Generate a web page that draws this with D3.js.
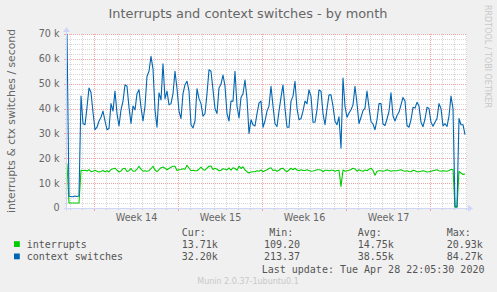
<!DOCTYPE html>
<html>
<head>
<meta charset="utf-8">
<script src="https://cdn.jsdelivr.net/npm/d3@7"></script>
<style>
  html, body { margin: 0; padding: 0; background: #f0f0f0; }
  svg { display: block; }
  text { font-family: "DejaVu Sans", sans-serif; fill: #666; }
  text.mono { font-family: "DejaVu Sans Mono", monospace; fill: #555; }
</style>
</head>
<body>
<svg id="chart" width="497" height="292"></svg>
<script>
// one sample every 4 hours, oldest first, values in thousands per second
var stepHours = 4;
var interrupts = [
  17.7, 2, 2, 2, 2, 2, 2, 15.2, 15.1, 15.2,
  14.9, 15.4, 14.6, 14.8, 15.2, 14.8, 14.5, 14.7, 15.1, 14.6,
  15, 14.5, 15.5, 15.8, 16, 15.2, 14.5, 14.9, 15.8, 16,
  14.7, 15, 15.9, 14.8, 14.8, 15.6, 16.8, 15.6, 14.8, 15,
  14.8, 15, 15.8, 16.8, 15.3, 14.6, 15.4, 16.2, 16.5, 16,
  15.4, 15.9, 16.4, 16.8, 16.8, 15.1, 15.4, 15.5, 15.8, 15.6,
  17.2, 16.1, 15, 15.2, 15, 15, 15.6, 16.4, 15.5, 15.2,
  16, 16.8, 16.9, 15.5, 16, 15.6, 15, 15.2, 15.8, 15.6,
  15.3, 16.1, 15.2, 16.2, 15.9, 15.2, 16.8, 15.9, 16.6, 15.3,
  14.6, 14.1, 14.5, 14.6, 14.6, 15, 14.8, 15.3, 14.6, 15,
  15.4, 15.9, 16.2, 15.1, 15.3, 14.8, 15.2, 15.9, 16, 15.1,
  14.6, 15.3, 16, 15.4, 16, 15.3, 15, 15.4, 15.1, 15.1,
  15.4, 15.1, 14.8, 14.9, 15.1, 15.4, 15.4, 15.3, 14.6, 15.2,
  15.2, 15, 15.2, 15.2, 14.8, 15.1, 15.2, 8.7, 15.3, 14.8,
  15, 15.2, 15.5, 16, 15.7, 14.8, 15.4, 15, 14.8, 15.3,
  15, 15.6, 16, 15.1, 13.2, 14.8, 15, 15, 14.8, 15,
  15.4, 15.1, 14.8, 15, 15, 15, 15.2, 15.4, 15, 14.8,
  15, 14.7, 14.6, 15.2, 15, 14.6, 14.6, 14.8, 15, 14.8,
  14.5, 14.6, 14.8, 15, 15.2, 15.4, 15, 14.8, 15, 14.9,
  14.8, 15.1, 15.5, 15.5, 0.3, 0.3, 14.7, 14.1, 13.5, 13.7
];
var contextSwitches = [
  70, 4.7, 4.6, 4.5, 4.8, 4.6, 4.8, 45, 34, 33.5,
  40.5, 48.3, 46.5, 38.5, 31.5, 32.5, 35, 36.5, 39, 35,
  31.5, 32, 42, 39, 47, 38, 33, 39.5, 43, 49.6,
  49, 40.5, 34, 41, 39.5, 46, 47.6, 40.5, 35, 41,
  53, 55, 61, 56, 39.5, 32.5, 46.3, 43.5, 58, 44,
  47, 41.5, 42, 46, 55, 48, 39, 36, 46, 49.6,
  51, 47, 33.5, 32.2, 35, 48, 44, 42, 36.9, 38,
  46, 55.6, 55, 47.5, 40, 38, 48.3, 49.8, 53.5, 49,
  38, 35, 43, 43, 55, 41, 36.2, 44.5, 46, 51.5,
  44, 30, 35.5, 33.5, 33, 38, 42.2, 43, 32.5, 35,
  39, 41, 49, 41, 33.9, 32.8, 39, 44.5, 49.5, 40,
  32.5, 32.5, 43, 45, 51, 40, 35.5, 36, 39, 43,
  42, 47.5, 44.9, 34.5, 34.5, 39.5, 47.5, 47, 38, 33.5,
  40, 45.5, 45.5, 41, 34.9, 33.5, 36.7, 24.1, 52.3, 40.8,
  36.5, 38.2, 39.5, 41.5, 49, 42, 34, 36.5, 39.2, 40.2,
  47, 40.5, 34.8, 33.8, 31.5, 35.5, 42, 42, 33.8, 33.2,
  35.8, 38.9, 46.3, 37, 35, 37.2, 38.6, 41.5, 44.5, 43,
  33.2, 32.5, 35.5, 40.5, 40.2, 42.5, 41, 34.5, 32.7, 35.8,
  40.5, 40, 34.5, 32.9, 34.5, 36, 42, 40, 33, 33.9,
  32.8, 37, 45, 40, 0.5, 0.5, 36, 33.5, 33.5, 29.5
];

var yTicks = [0, 10, 20, 30, 40, 50, 60, 70];
var weekLabels = ["Week 14", "Week 15", "Week 16", "Week 17"];
var spanHours = 800;        // width of the graph in hours
var firstWeekHour = 55;     // first week boundary, hours from the left edge

var seriesNames = ["interrupts", "context switches"];
var curValues = ["13.71k", "32.20k"];
var minValues = ["109.20", "213.37"];
var avgValues = ["14.75k", "38.55k"];
var maxValues = ["20.93k", "84.27k"];
var lastUpdate = "Last update: Tue Apr 28 22:05:30 2020";

var colours = ["#00cc00", "#0066b3"];

// plot box (window.top is taken, so prefixed names)
var plotLeft = 67, plotRight = 467, plotTop = 34, plotBottom = 208;

var svg = d3.select("#chart");
svg.append("rect").attr("width", 497).attr("height", 292).attr("fill", "#f0f0f0");
svg.append("rect")
  .attr("x", plotLeft).attr("y", plotTop)
  .attr("width", plotRight - plotLeft).attr("height", plotBottom - plotTop)
  .attr("fill", "#ffffff");

var x = d3.scaleLinear().domain([0, spanHours]).range([plotLeft, plotRight]);
var y = d3.scaleLinear().domain([0, 70]).range([plotBottom, plotTop]);

function px(v) { return Math.round(v) + 0.5; }
function pxx(v) { return Math.floor(v) + 0.5; }

// grid
var majorHours = d3.range(firstWeekHour, spanHours, 168);
var minorHours = d3.range(firstWeekHour % 24, spanHours, 24)
  .filter(function(h) { return (h - firstWeekHour) % 168 !== 0; });
var minorY = d3.range(0, 70.01, 2).filter(function(v) { return v % 10 !== 0; });

var grid = svg.append("g").attr("stroke-dasharray", "1,1").attr("stroke-width", 1);
grid.selectAll(".hmin").data(minorY).enter().append("line")
  .attr("x1", plotLeft).attr("x2", plotRight)
  .attr("y1", function(d) { return px(y(d)); })
  .attr("y2", function(d) { return px(y(d)); })
  .attr("stroke", "#d6d6d6");
grid.selectAll(".vmin").data(minorHours).enter().append("line")
  .attr("x1", function(d) { return pxx(x(d)); })
  .attr("x2", function(d) { return pxx(x(d)); })
  .attr("y1", plotTop).attr("y2", plotBottom)
  .attr("stroke", "#d6d6d6");
grid.selectAll(".hmaj").data(yTicks.slice(1)).enter().append("line")
  .attr("x1", plotLeft).attr("x2", plotRight)
  .attr("y1", function(d) { return px(y(d)); })
  .attr("y2", function(d) { return px(y(d)); })
  .attr("stroke", "#f2a5a5");
grid.selectAll(".vmaj").data(majorHours).enter().append("line")
  .attr("x1", function(d) { return pxx(x(d)); })
  .attr("x2", function(d) { return pxx(x(d)); })
  .attr("y1", plotTop).attr("y2", plotBottom)
  .attr("stroke", "#f2a5a5");

// small ticks outside the axes
var ticks = svg.append("g").attr("stroke-width", 1);
ticks.selectAll(".tx").data(minorHours).enter().append("line")
  .attr("x1", function(d) { return pxx(x(d)); })
  .attr("x2", function(d) { return pxx(x(d)); })
  .attr("y1", plotBottom).attr("y2", plotBottom + 2).attr("stroke", "#c8c8c8");
ticks.selectAll(".txm").data(majorHours).enter().append("line")
  .attr("x1", function(d) { return pxx(x(d)); })
  .attr("x2", function(d) { return pxx(x(d)); })
  .attr("y1", plotBottom).attr("y2", plotBottom + 3).attr("stroke", "#f2a5a5");
ticks.selectAll(".ty").data(minorY).enter().append("line")
  .attr("x1", plotLeft - 2).attr("x2", plotLeft)
  .attr("y1", function(d) { return px(y(d)); })
  .attr("y2", function(d) { return px(y(d)); })
  .attr("stroke", "#c8c8c8");
ticks.selectAll(".tym").data(yTicks).enter().append("line")
  .attr("x1", plotLeft - 3).attr("x2", plotLeft)
  .attr("y1", function(d) { return px(y(d)); })
  .attr("y2", function(d) { return px(y(d)); })
  .attr("stroke", "#f2a5a5");

// axis labels
svg.append("g").selectAll("text").data(yTicks).enter().append("text")
  .attr("x", 59.5)
  .attr("y", function(d) { return y(d); })
  .attr("dy", "0.36em")
  .attr("text-anchor", "end")
  .style("font-size", "9.6px")
  .text(function(d) { return d === 0 ? "0" : d + " k"; });

svg.append("g").selectAll("text").data(weekLabels).enter().append("text")
  .attr("x", function(d, i) { return x(majorHours[i] + 84); })
  .attr("y", 220.5)
  .attr("text-anchor", "middle")
  .style("font-size", "9.6px")
  .text(function(d) { return d; });

// data lines
svg.append("clipPath").attr("id", "plotclip").append("rect")
  .attr("x", plotLeft).attr("y", plotTop - 1)
  .attr("width", plotRight - plotLeft).attr("height", plotBottom - plotTop + 1);

var line = d3.line()
  .x(function(d, i) { return x(i * stepHours); })
  .y(function(d) { return y(d); });

[interrupts, contextSwitches].forEach(function(series, k) {
  svg.append("path")
    .datum(series)
    .attr("clip-path", "url(#plotclip)")
    .attr("fill", "none")
    .attr("stroke", colours[k])
    .attr("stroke-width", 1.1)
    .attr("stroke-linejoin", "round")
    .attr("d", line);
});

// axes with arrows
var axisColour = "#cfd6f8";
svg.append("line").attr("x1", plotLeft - 3).attr("x2", plotRight + 2)
  .attr("y1", plotBottom + 0.5).attr("y2", plotBottom + 0.5)
  .attr("stroke", axisColour);
svg.append("line").attr("x1", plotLeft - 0.5).attr("x2", plotLeft - 0.5)
  .attr("y1", plotBottom + 3).attr("y2", plotTop - 3)
  .attr("stroke", axisColour);
svg.append("path")
  .attr("d", "M" + (plotRight + 1) + "," + (plotBottom - 3) + "L" + (plotRight + 6) + "," + (plotBottom + 0.5) +
    "L" + (plotRight + 1) + "," + (plotBottom + 4) + "Z")
  .attr("fill", axisColour);
svg.append("path")
  .attr("d", "M" + (plotLeft - 4) + "," + (plotTop - 2) + "L" + (plotLeft - 0.5) + "," + (plotTop - 7) +
    "L" + (plotLeft + 3) + "," + (plotTop - 2) + "Z")
  .attr("fill", axisColour);

// title, unit label and watermark
svg.append("text")
  .attr("x", 248).attr("y", 17.7)
  .attr("text-anchor", "middle")
  .style("font-size", "12.9px")
  .text("Interrupts and context switches - by month");

svg.append("text")
  .attr("transform", "translate(15,121) rotate(-90)")
  .attr("text-anchor", "middle")
  .style("font-size", "10.8px")
  .text("interrupts & ctx switches / second");

svg.append("text")
  .attr("transform", "translate(485,5) rotate(90)")
  .style("font-size", "8px")
  .style("fill", "#c8c8c8")
  .text("RRDTOOL / TOBI OETIKER");

// legend
var legend = svg.append("g");
var headers = [["Cur:", 181.7], ["Min:", 269.3], ["Avg:", 357.7], ["Max:", 446.7]];
legend.selectAll(".hdr").data(headers).enter().append("text")
  .attr("class", "mono")
  .attr("x", function(d) { return d[1]; })
  .attr("y", 236.3)
  .style("font-size", "10px")
  .text(function(d) { return d[0]; });

var columnX = [181.7, 264, 357.7, 446.7];
seriesNames.forEach(function(name, k) {
  var base = 248 + k * 12.3;
  legend.append("rect")
    .attr("x", 14).attr("y", base - 6.8)
    .attr("width", 5.8).attr("height", 5.8)
    .attr("fill", colours[k]);
  legend.append("text").attr("class", "mono")
    .attr("x", 26.7).attr("y", base)
    .style("font-size", "10px")
    .text(name);
  [curValues[k], minValues[k], avgValues[k], maxValues[k]].forEach(function(v, c) {
    legend.append("text").attr("class", "mono")
      .attr("x", columnX[c]).attr("y", base)
      .style("font-size", "10px")
      .text(v);
  });
});

legend.append("text").attr("class", "mono")
  .attr("x", 261.7).attr("y", 272.7)
  .style("font-size", "10px")
  .text(lastUpdate);

svg.append("text")
  .attr("x", 248).attr("y", 284)
  .attr("text-anchor", "middle")
  .style("font-size", "8px")
  .style("fill", "#c8c8c8")
  .text("Munin 2.0.37-1ubuntu0.1");
</script>
</body>
</html>
